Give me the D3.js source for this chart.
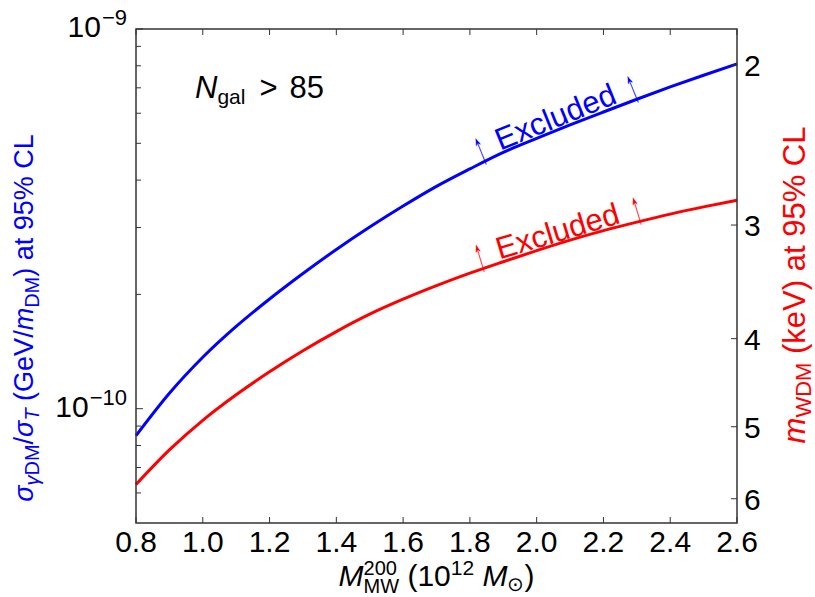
<!DOCTYPE html>
<html>
<head>
<meta charset="utf-8">
<script src="https://cdn.jsdelivr.net/npm/d3@7"></script>
<style>
  body { margin: 0; background: #fff; }
  svg text { font-family: "Liberation Sans", Arial, sans-serif; }
</style>
</head>
<body>
<svg id="chart" width="815" height="597"></svg>
<script>
// halo mass in 10^12 Msun
const mass = [0.8, 0.9, 1.0, 1.1, 1.2, 1.3, 1.4, 1.5, 1.6, 1.7, 1.8, 1.9, 2.0, 2.1, 2.2, 2.3, 2.4, 2.5, 2.6];
// sigma_gammaDM / sigma_T (GeV / m_DM), blue, left axis
const sigmaLimit = [8.49e-11, 1.098e-10, 1.366e-10, 1.647e-10, 1.945e-10, 2.270e-10, 2.626e-10, 3.009e-10,
  3.418e-10, 3.851e-10, 4.281e-10, 4.732e-10, 5.150e-10, 5.589e-10, 6.046e-10, 6.531e-10, 7.037e-10,
  7.553e-10, 8.089e-10];
// m_WDM (keV), red, right axis
const mwdmLimit = [5.787, 5.302, 4.919, 4.611, 4.350, 4.124, 3.929, 3.760, 3.620, 3.498, 3.389, 3.292, 3.201,
  3.117, 3.043, 2.978, 2.918, 2.865, 2.817];
const xTicks = [0.8, 1.0, 1.2, 1.4, 1.6, 1.8, 2.0, 2.2, 2.4, 2.6];
const leftMajor = [1e-9, 1e-10];
const leftMinor = [9e-10, 8e-10, 7e-10, 6e-10, 5e-10, 4e-10, 3e-10, 2e-10, 9e-11, 8e-11, 7e-11, 6e-11];
const rightTicks = [2, 3, 4, 5, 6];

const svg = d3.select('#chart');
const L = 136, R = 737, T = 29, B = 523;

const x = d3.scaleLinear().domain([0.8, 2.6]).range([L, R]);
const yL = d3.scaleLog().domain([5e-11, 1e-9]).range([B, T]);
const yR = d3.scaleLog().domain([6.38, 1.826]).range([B, T]);

// lays out a run of text pieces (sub/superscripts) starting at 0, then shifts for anchor
function richText(parent, pieces, anchor, size) {
  const g = parent.append('g');
  let cx = 0, lastStart = 0;
  pieces.forEach(p => {
    const t = g.append('text')
      .attr('y', p.dy || 0)
      .attr('font-size', p.size || size)
      .attr('font-style', p.it ? 'italic' : 'normal')
      .style('white-space', 'pre')
      .text(p.t);
    const w = t.node().getComputedTextLength();
    if (p.stack) {
      t.attr('x', lastStart);
      cx = Math.max(cx, lastStart + w);
    } else {
      t.attr('x', cx + (p.gap || 0));
      lastStart = cx + (p.gap || 0);
      cx = lastStart + w;
    }
  });
  const shift = anchor === 'middle' ? -cx / 2 : anchor === 'end' ? -cx : 0;
  g.selectAll('text').attr('x', function () { return +d3.select(this).attr('x') + shift; });
  return g;
}

// curves
const blueLine = d3.line().x((d, i) => x(mass[i])).y(d => yL(d)).curve(d3.curveMonotoneX);
const redLine = d3.line().x((d, i) => x(mass[i])).y(d => yR(d)).curve(d3.curveMonotoneX);

svg.append('path').attr('d', blueLine(sigmaLimit))
  .attr('fill', 'none').attr('stroke', '#0000ff').attr('stroke-width', 3);
svg.append('path').attr('d', redLine(mwdmLimit))
  .attr('fill', 'none').attr('stroke', '#ff0000').attr('stroke-width', 3);

// frame + ticks
const frame = svg.append('g').attr('stroke', '#333').attr('fill', 'none');
frame.append('rect').attr('x', L).attr('y', T).attr('width', R - L).attr('height', B - T)
  .attr('stroke-width', 1.5);
xTicks.forEach(v => {
  frame.append('line').attr('x1', x(v)).attr('x2', x(v)).attr('y1', B).attr('y2', B - 6);
  frame.append('line').attr('x1', x(v)).attr('x2', x(v)).attr('y1', T).attr('y2', T + 6);
});
leftMajor.concat(leftMinor).forEach(v => {
  const len = leftMajor.includes(v) ? 7 : 5;
  frame.append('line').attr('x1', L).attr('x2', L + len).attr('y1', yL(v)).attr('y2', yL(v));
});
rightTicks.forEach(v => {
  frame.append('line').attr('x1', R).attr('x2', R - 6).attr('y1', yR(v)).attr('y2', yR(v));
});

// tick labels
svg.append('g').selectAll('text').data(xTicks).enter().append('text')
  .attr('x', d => x(d)).attr('y', 552).attr('text-anchor', 'middle')
  .attr('font-size', 30).text(d => d.toFixed(1));

leftMajor.forEach(v => {
  const e = Math.round(Math.log10(v));
  const g = richText(svg, [{ t: '10' }, { t: '\u2212' + (-e), size: 22, dy: -12, gap: 1 }], 'end', 30);
  g.attr('transform', `translate(${L - 9},${yL(v) + 8})`);
});

svg.append('g').selectAll('text').data(rightTicks).enter().append('text')
  .attr('x', R + 7).attr('y', d => yR(d) + 11)
  .attr('font-size', 30).text(d => d);

// axis titles
richText(svg, [
  { t: 'M', it: true },
  { t: 'MW', size: 20, dy: 7 },
  { t: '200', size: 20, dy: -11, stack: true },
  { t: ' (10' },
  { t: '12', size: 21, dy: -11 },
  { t: ' ' },
  { t: 'M', it: true },
  { t: '\u2299', size: 20, dy: 5 },
  { t: ')' }
], 'middle', 30).attr('transform', `translate(${(L + R) / 2},586)`);

richText(svg, [
  { t: '\u03c3', it: true },
  { t: '\u03b3', size: 20, dy: 6, it: true },
  { t: 'DM', size: 20, dy: 6 },
  { t: '/' },
  { t: '\u03c3', it: true },
  { t: 'T', size: 20, dy: 6, it: true },
  { t: ' (GeV/' },
  { t: 'm', it: true },
  { t: 'DM', size: 20, dy: 6 },
  { t: ') at 95% CL' }
], 'middle', 27).attr('transform', 'translate(33,318) rotate(-90)').attr('fill', '#0000ff');

richText(svg, [
  { t: 'm', it: true },
  { t: 'WDM', size: 22, dy: 6 },
  { t: ' (keV) at 95% CL' }
], 'middle', 31).attr('transform', 'translate(805,285) rotate(-90)').attr('fill', '#ff0000');

// N_gal annotation
richText(svg, [
  { t: 'N', it: true },
  { t: 'gal', size: 21, dy: 6 },
  { t: '>', gap: 14 },
  { t: '85', gap: 12 }
], 'start', 31).attr('transform', 'translate(195,98)');

// "Excluded" labels laid along each curve
function interp(arr, v) {
  const i = Math.min(arr.length - 2, Math.floor((v - mass[0]) / 0.1 + 1e-9));
  const f = (v - mass[i]) / (mass[i + 1] - mass[i]);
  return arr[i] + f * (arr[i + 1] - arr[i]);
}
function excluded(arr, yScale, m0, m1, color) {
  const p0 = [x(m0), yScale(interp(arr, m0))];
  const p1 = [x(m1), yScale(interp(arr, m1))];
  const ang = Math.atan2(p1[1] - p0[1], p1[0] - p0[0]) * 180 / Math.PI;
  const len = Math.hypot(p1[0] - p0[0], p1[1] - p0[1]);
  const g = svg.append('g').attr('transform', `translate(${p0[0]},${p0[1]}) rotate(${ang})`)
    .attr('fill', color);
  [0, len].forEach(px => {
    g.append('text').attr('transform', `translate(${px},2) scale(0.4,1)`)
      .attr('text-anchor', 'middle').attr('font-family', 'DejaVu Sans')
      .attr('font-size', 48).text('\u2191');
  });
  g.append('text').attr('x', len / 2).attr('y', -4).attr('text-anchor', 'middle')
    .attr('font-size', 31).text('Excluded');
}
excluded(sigmaLimit, yL, 1.845, 2.30, '#0000ff');
excluded(mwdmLimit, yR, 1.84, 2.31, '#ff0000');
</script>
</body>
</html>
